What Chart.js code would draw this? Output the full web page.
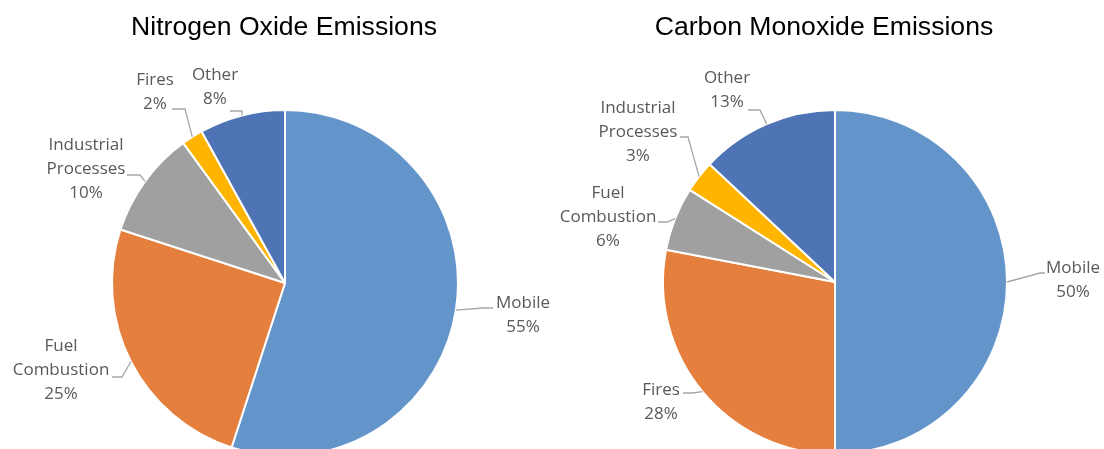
<!DOCTYPE html>
<html>
<head>
<meta charset="utf-8">
<script src="https://cdn.jsdelivr.net/npm/chart.js@4.4.1/dist/chart.umd.min.js"></script>
<style>
  html, body { margin: 0; padding: 0; background: #ffffff; overflow: hidden; width: 1104px; height: 449px; }
  .box { position: absolute; top: 0; width: 552px; height: 470px; }
  #b1 { left: 0; }
  #b2 { left: 552px; }
</style>
</head>
<body>
<div class="box" id="b1"><canvas id="c1"></canvas></div>
<div class="box" id="b2"><canvas id="c2"></canvas></div>
<script>
// ---- data ----
const noxTitle = 'Nitrogen Oxide Emissions';
const noxCategories = ['Mobile', 'Fuel Combustion', 'Industrial Processes', 'Fires', 'Other'];
const noxValues = [55, 25, 10, 2, 8];

const coTitle = 'Carbon Monoxide Emissions';
const coCategories = ['Mobile', 'Fires', 'Fuel Combustion', 'Industrial Processes', 'Other'];
const coValues = [50, 28, 6, 3, 13];

const sliceColors = ['#6495CA', '#E57F3E', '#A0A0A0', '#FFB400', '#4E74B5'];

// ---- label layout (offsets relative to pie centre) ----
// tx: text centre x, ty: first line centre y, sx: leader start x, ex: elbow x, ey: leader horizontal y
const noxLabelLayout = [
  { tx: 238, ty: 20, sx: 208, ex: 198, ey: 25 },
  { tx: -224, ty: 63, sx: -173, ex: -163, ey: 94 },
  { tx: -199, ty: -138, sx: -158, ex: -145, ey: -108 },
  { tx: -130, ty: -203, sx: -113, ex: -100, ey: -174 },
  { tx: -70, ty: -208, sx: -55, ex: -43, ey: -172 }
];
const coLabelLayout = [
  { tx: 238, ty: -14, sx: 210, ex: 205, ey: -9 },
  { tx: -174, ty: 108, sx: -152, ex: -143, ey: 111 },
  { tx: -227, ty: -89, sx: -177, ex: -168, ey: -60 },
  { tx: -197, ty: -174, sx: -155, ex: -147, ey: -145 },
  { tx: -108, ty: -204, sx: -87, ex: -75, ey: -172 }
];

const labelFont = '17px "Open Sans", "Noto Sans", sans-serif';
const labelColor = '#595959';
const leaderColor = '#A6A6A6';
const lineGap = 24;

const pieLabels = {
  id: 'pieLabels',
  afterDatasetsDraw(chart, args, opts) {
    const ctx = chart.ctx;
    const meta = chart.getDatasetMeta(0);
    const data = chart.data.datasets[0].data;
    const total = data.reduce((a, b) => a + b, 0);
    ctx.save();
    // title
    ctx.font = '26.6px "Liberation Sans", Arial, sans-serif';
    ctx.fillStyle = '#000000';
    ctx.textAlign = 'center';
    ctx.textBaseline = 'middle';
    ctx.fillText(opts.title, opts.titleX, opts.titleY);

    meta.data.forEach((arc, i) => {
      const p = arc.getProps(['x', 'y', 'startAngle', 'endAngle', 'outerRadius'], true);
      const mid = (p.startAngle + p.endAngle) / 2;
      const edgeX = p.x + Math.cos(mid) * p.outerRadius;
      const edgeY = p.y + Math.sin(mid) * p.outerRadius;
      const L = opts.layout[i];
      // leader line
      ctx.strokeStyle = leaderColor;
      ctx.lineWidth = 1.3;
      ctx.beginPath();
      ctx.moveTo(p.x + L.sx, p.y + L.ey);
      ctx.lineTo(p.x + L.ex, p.y + L.ey);
      ctx.lineTo(edgeX, edgeY);
      ctx.stroke();
      // text
      const lines = chart.data.labels[i].split(' ');
      lines.push(Math.round(data[i] / total * 100) + '%');
      ctx.font = labelFont;
      ctx.fillStyle = labelColor;
      ctx.textAlign = 'center';
      ctx.textBaseline = 'middle';
      lines.forEach((t, k) => {
        ctx.fillText(t, p.x + L.tx, p.y + L.ty + k * lineGap);
      });
    });
    ctx.restore();
  }
};

function makePie(id, categories, values, title, layout, padding, titleX) {
  return new Chart(document.getElementById(id), {
    type: 'pie',
    data: {
      labels: categories,
      datasets: [{
        data: values,
        backgroundColor: sliceColors,
        borderColor: '#ffffff',
        borderWidth: 2
      }]
    },
    options: {
      responsive: true,
      maintainAspectRatio: false,
      animation: false,
      layout: { padding: padding },
      plugins: {
        legend: { display: false },
        tooltip: { enabled: false },
        title: { display: false },
        pieLabels: { title: title, titleX: titleX, titleY: 28, layout: layout }
      }
    },
    plugins: [pieLabels]
  });
}

makePie('c1', noxCategories, noxValues, noxTitle, noxLabelLayout,
  { top: 109, bottom: 13, left: 111, right: 93 }, 284);
makePie('c2', coCategories, coValues, coTitle, coLabelLayout,
  { top: 109, bottom: 15, left: 110, right: 96 }, 272);
</script>
</body>
</html>
